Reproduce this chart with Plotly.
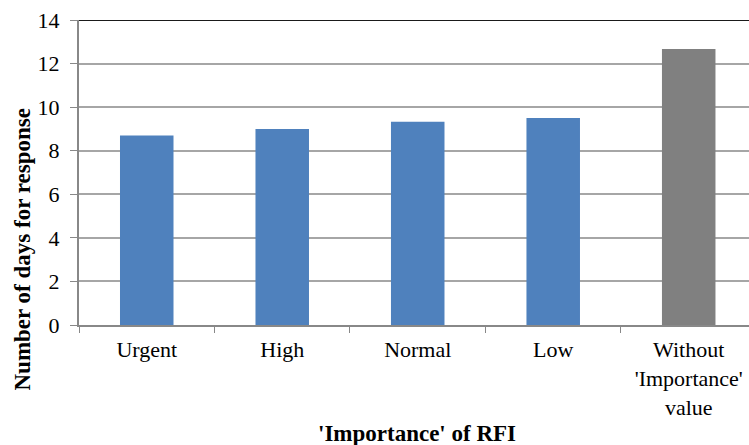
import plotly.graph_objects as go

categories = ["Urgent", "High", "Normal", "Low", "Without<br>'Importance'<br>value"]
values = [8.7, 9.0, 9.33, 9.5, 12.67]
colors = ["#4f81bd", "#4f81bd", "#4f81bd", "#4f81bd", "#808080"]
y_ticks = [0, 2, 4, 6, 8, 10, 12, 14]

FONT = "Liberation Serif, Times New Roman, serif"

fig = go.Figure(go.Bar(
    x=categories, y=values, marker=dict(color=colors, line=dict(width=0)),
    width=0.395, hoverinfo="skip",
))

fig.update_layout(
    width=749, height=445,
    margin=dict(l=79, r=0, t=20, b=120, autoexpand=False),
    paper_bgcolor="white", plot_bgcolor="white",
    font=dict(family=FONT, size=22, color="black"),
    showlegend=False,
    xaxis=dict(
        range=[-0.5, 4.445], tickson="boundaries", ticks="outside", ticklen=6,
        tickcolor="#888888", showline=True, linecolor="#888888", linewidth=2,
        showgrid=False, tickfont=dict(family=FONT, size=22, color="black"),
        automargin=False, ticklabelstandoff=4,
    ),
    yaxis=dict(
        range=[0, 14], tickvals=y_ticks, ticks="outside", ticklen=7,
        tickcolor="#888888", showline=True, linecolor="#888888", linewidth=2,
        gridcolor="#a6a6a6", gridwidth=1.5, zeroline=False,
        tickfont=dict(family=FONT, size=22, color="black"),
        ticklabelstandoff=6, automargin=False,
    ),
    shapes=[dict(type="line", xref="paper", yref="y", x0=0, x1=1, y0=14, y1=14,
                 line=dict(color="#1a1a1a", width=2))],
    annotations=[
        dict(text="<b>'Importance' of RFI</b>", xref="paper", yref="paper",
             x=(417 - 79) / 670, y=0, yshift=-108, showarrow=False,
             font=dict(family=FONT, size=23), yanchor="middle"),
        dict(text="<b>Number of days for response</b>", xref="paper", yref="paper",
             x=0, xshift=-57, y=0.5, yshift=-77, textangle=-90, showarrow=False,
             font=dict(family=FONT, size=23), xanchor="center", yanchor="middle"),
    ],
)

fig.write_html("out.html", config={"displayModeBar": False},
               post_script="document.body.style.margin='0';")
